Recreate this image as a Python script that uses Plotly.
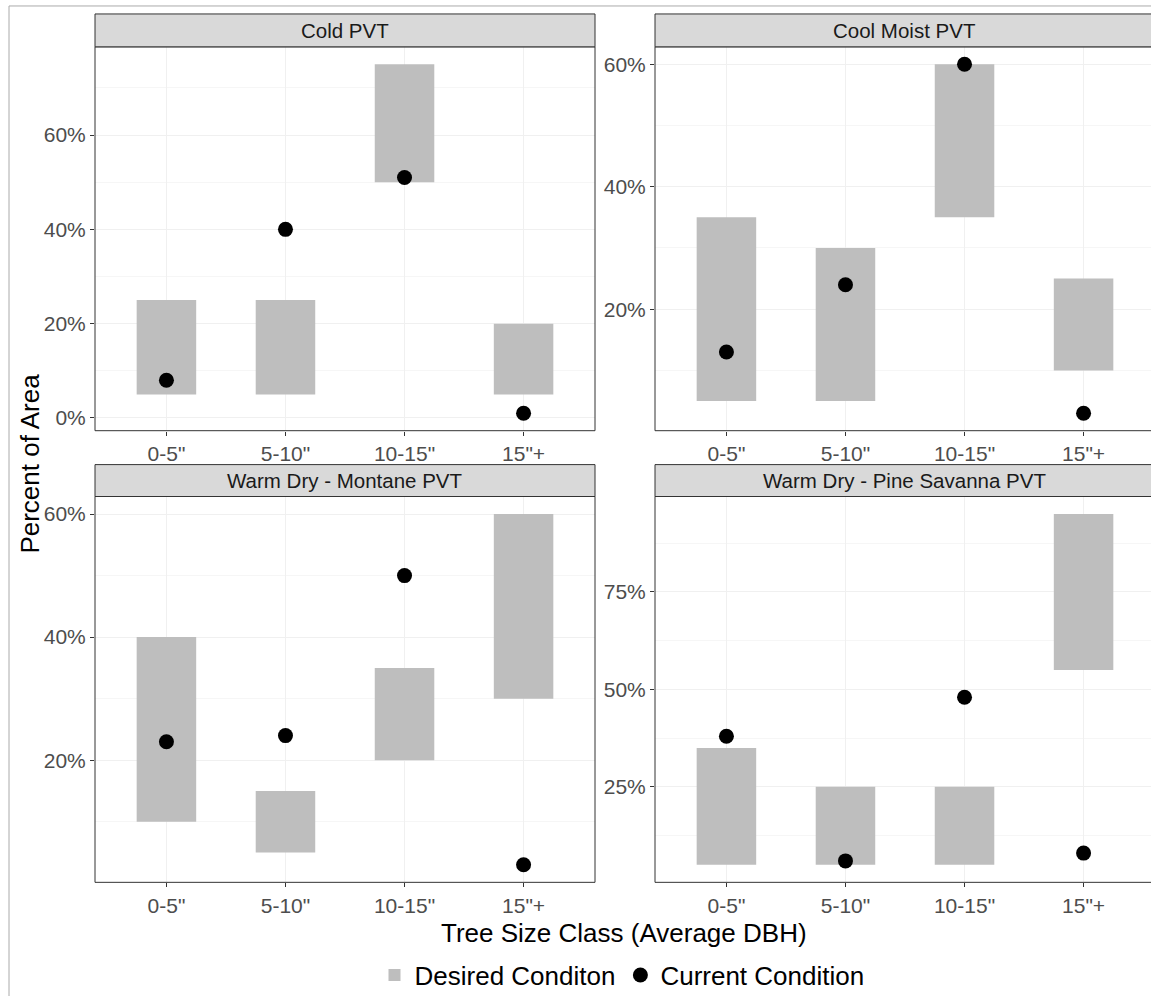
import plotly.graph_objects as go

# ---------------- data ----------------
categories = ['0-5"', '5-10"', '10-15"', '15"+']
panel_titles = ["Cold PVT", "Cool Moist PVT", "Warm Dry - Montane PVT", "Warm Dry - Pine Savanna PVT"]

cold_low = [5, 5, 50, 5]
cold_high = [25, 25, 75, 20]
cold_current = [8, 40, 51, 1]

coolmoist_low = [5, 5, 35, 10]
coolmoist_high = [35, 30, 60, 25]
coolmoist_current = [13, 24, 60, 3]

montane_low = [10, 5, 20, 30]
montane_high = [40, 15, 35, 60]
montane_current = [23, 24, 50, 3]

savanna_low = [5, 5, 5, 55]
savanna_high = [35, 25, 25, 95]
savanna_current = [38, 6, 48, 8]

lows = [cold_low, coolmoist_low, montane_low, savanna_low]
highs = [cold_high, coolmoist_high, montane_high, savanna_high]
currents = [cold_current, coolmoist_current, montane_current, savanna_current]
y_dticks = [20, 20, 20, 25]

# ---------------- layout geometry (pixels) ----------------
W, H = 1151, 999
def px(x):
    return x / W
def py(y):
    return 1 - y / H

col_x = [(95, 595), (655, 1151)]
row_y = [(47, 432), (498, 885)]
strip_y = [(14, 47), (466, 498)]
FONT = "Liberation Sans, Arial, sans-serif"

fig = go.Figure()
layout_axes = {}
shapes = []
annotations = []

for i in range(4):
    r, c = divmod(i, 2)
    n = i + 1
    xa = "x" if n == 1 else f"x{n}"
    ya = "y" if n == 1 else f"y{n}"
    xkey = "xaxis" if n == 1 else f"xaxis{n}"
    ykey = "yaxis" if n == 1 else f"yaxis{n}"

    lo, hi, cur = lows[i], highs[i], currents[i]
    fig.add_trace(go.Bar(
        x=categories, y=[h - l for h, l in zip(hi, lo)], base=lo,
        width=0.5, marker=dict(color="#BEBEBE", line=dict(width=0)),
        name="Desired Conditon", legendgroup="d", showlegend=(i == 0),
        xaxis=xa, yaxis=ya))
    fig.add_trace(go.Scatter(
        x=categories, y=cur, mode="markers",
        marker=dict(color="black", size=15),
        name="Current Condition", legendgroup="c", showlegend=(i == 0),
        xaxis=xa, yaxis=ya))

    vals = lo + hi + cur
    vmin, vmax = min(vals), max(vals)
    pad = (vmax - vmin) * 0.05
    x0, x1 = col_x[c]
    y0, y1 = row_y[r]
    xr_end = -0.6 + (x1 - x0) / ((595 - 95) / 4.2)

    layout_axes[xkey] = dict(
        domain=[px(x0), px(x1)], anchor=ya, type="category",
        categoryorder="array", categoryarray=categories,
        range=[-0.6, xr_end], showgrid=True, gridcolor="#F0F0F0", gridwidth=1,
        ticks="outside", ticklen=4, tickcolor="#333333", tickwidth=1,
        tickfont=dict(family=FONT, size=21, color="#4D4D4D"),
        showline=False, zeroline=False, fixedrange=True)
    layout_axes[ykey] = dict(
        domain=[py(y1), py(y0)], anchor=xa,
        range=[vmin - pad, vmax + pad], dtick=y_dticks[i], tick0=0,
        ticksuffix="%", showgrid=True, gridcolor="#F0F0F0", gridwidth=1,
        minor=dict(dtick=y_dticks[i] / 2, showgrid=True, gridcolor="#F6F6F6", gridwidth=0.6),
        ticks="outside", ticklen=4, tickcolor="#333333", tickwidth=1,
        tickfont=dict(family=FONT, size=21, color="#4D4D4D"),
        showline=False, zeroline=False, fixedrange=True)

    # panel border (right column extends beyond the page edge)
    bx1 = x1 if c == 0 else 1154
    shapes.append(dict(type="rect", xref="paper", yref="paper",
                       x0=px(x0), x1=px(bx1), y0=py(y1), y1=py(y0),
                       line=dict(color="#333333", width=1), fillcolor="rgba(0,0,0,0)", layer="above"))
    # strip
    sy0, sy1 = strip_y[r]
    shapes.append(dict(type="rect", xref="paper", yref="paper",
                       x0=px(x0), x1=px(bx1), y0=py(sy1), y1=py(sy0),
                       line=dict(color="#333333", width=1), fillcolor="#D9D9D9", layer="above"))
    annotations.append(dict(text=panel_titles[i], xref="paper", yref="paper",
                            x=px((x0 + bx1) / 2), y=py((sy0 + sy1) / 2),
                            xanchor="center", yanchor="middle", showarrow=False,
                            font=dict(family=FONT, size=20.5, color="#1A1A1A")))

# outer frame (left and top lines)
shapes.append(dict(type="line", xref="paper", yref="paper", x0=px(9), x1=px(9), y0=0, y1=py(6),
                   line=dict(color="#AAAAAA", width=1)))
shapes.append(dict(type="line", xref="paper", yref="paper", x0=px(9), x1=1.01, y0=py(6), y1=py(6),
                   line=dict(color="#AAAAAA", width=1)))

annotations.append(dict(text="Tree Size Class (Average DBH)", xref="paper", yref="paper",
                        x=px(624), y=py(936), xanchor="center", yanchor="middle", showarrow=False,
                        font=dict(family=FONT, size=26, color="black")))
annotations.append(dict(text="Percent of Area", xref="paper", yref="paper",
                        x=px(30), y=py(465), xanchor="center", yanchor="middle", showarrow=False,
                        textangle=-90, font=dict(family=FONT, size=26, color="black")))

fig.update_layout(
    width=W, height=H, margin=dict(l=0, r=0, t=0, b=0),
    paper_bgcolor="white", plot_bgcolor="white",
    barmode="overlay", showlegend=True,
    legend=dict(orientation="h", x=px(622), xanchor="center", y=py(978), yanchor="middle",
                font=dict(family=FONT, size=26, color="black"), itemwidth=30,
                bgcolor="rgba(0,0,0,0)"),
    shapes=shapes, annotations=annotations,
    **layout_axes)

fig.write_html("out.html")
